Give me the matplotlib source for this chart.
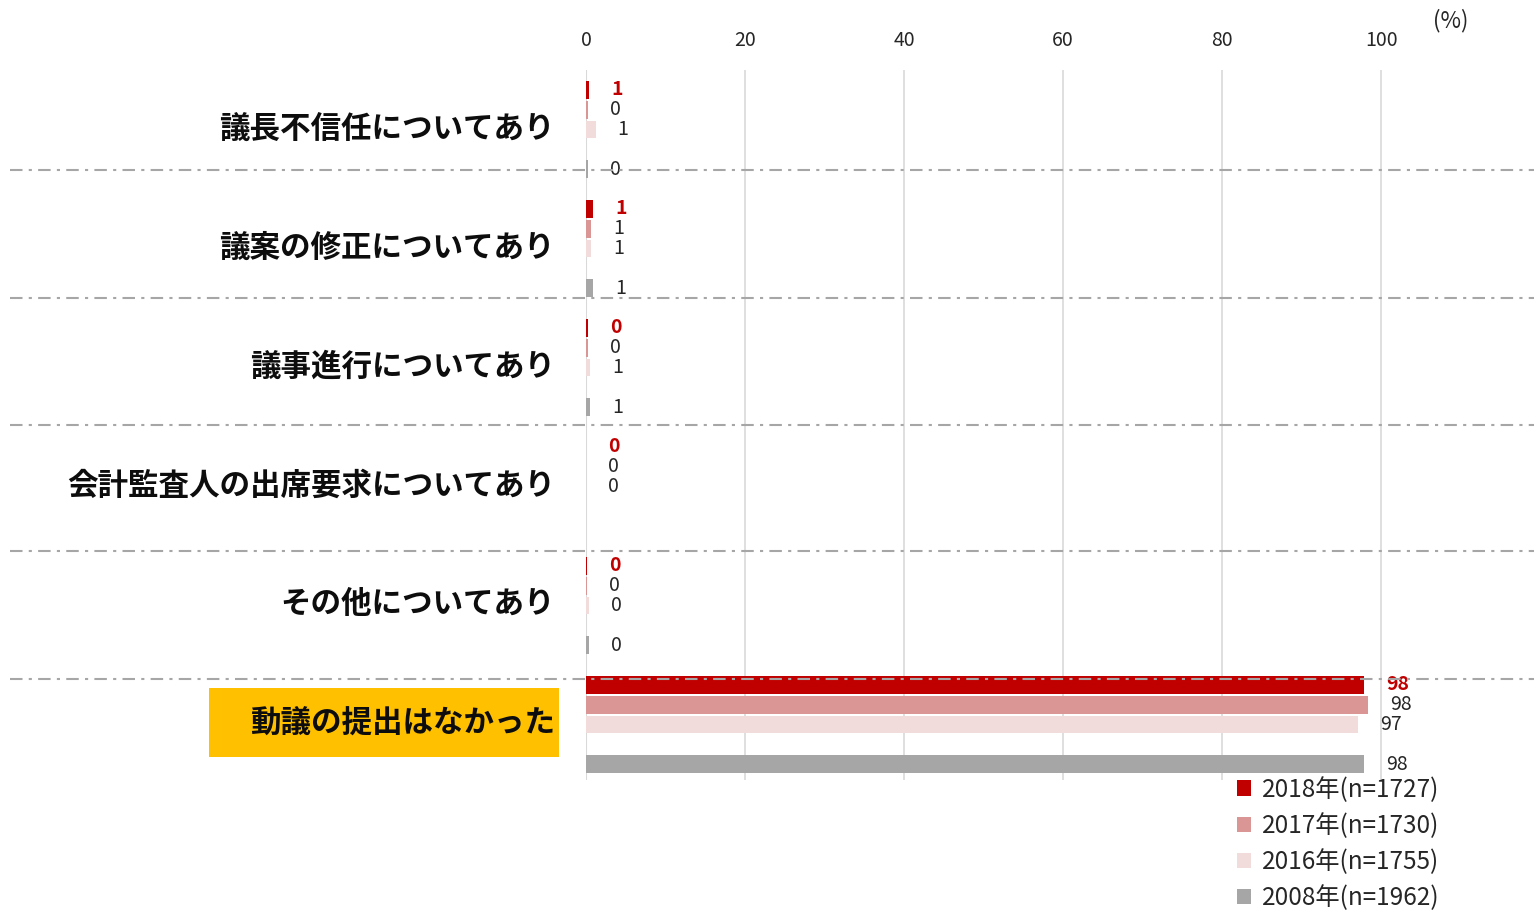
import numpy as np
import matplotlib
matplotlib.use("Agg")
import matplotlib.pyplot as plt
from matplotlib.lines import Line2D
from matplotlib.patches import Rectangle

plt.rcParams['font.family'] = ['Noto Sans CJK JP', 'DejaVu Sans']

# data (percent), 2008 has no value for 会計監査人
categories = ["議長不信任についてあり", "議案の修正についてあり", "議事進行についてあり",
              "会計監査人の出席要求についてあり", "その他についてあり", "動議の提出はなかった"]
series_names = ["2018年(n=1727)", "2017年(n=1730)", "2016年(n=1755)", "2008年(n=1962)"]
v2018 = [0.4, 0.9, 0.3, 0.0, 0.1, 97.8]
v2017 = [0.2, 0.6, 0.2, 0.0, 0.1, 98.3]
v2016 = [1.2, 0.6, 0.5, 0.0, 0.4, 97.1]
v2008 = [0.3, 0.9, 0.5, np.nan, 0.4, 97.8]
lab2018 = ["1", "1", "0", "0", "0", "98"]
lab2017 = ["0", "1", "0", "0", "0", "98"]
lab2016 = ["1", "1", "1", "0", "0", "97"]
lab2008 = ["0", "1", "1", "", "0", "98"]
colors = ["#C00000", "#DA9694", "#F2DCDB", "#A6A6A6"]

values = [v2018, v2017, v2016, v2008]
labels = [lab2018, lab2017, lab2016, lab2008]
offsets = [-2, -1, 0, 2]

fig = plt.figure(figsize=(15.34, 9.24), dpi=100)
ax = fig.add_axes([586 / 1534, 144 / 924, 948 / 1534, 710 / 924])

centers = np.arange(len(categories)) * 6
handles = []
for i in range(4):
    ys = centers + offsets[i]
    vals = np.array(values[i], dtype=float)
    b = ax.barh(ys, vals, height=0.9, color=colors[i], zorder=2, label=series_names[i])
    handles.append(b)
    for y, v, t in zip(ys, vals, labels[i]):
        if np.isnan(v):
            continue
        ax.annotate(t, (v, y), xytext=(22, 0), textcoords="offset pixels",
                    ha="left", va="center", fontsize=14,
                    color="#C00000" if i == 0 else "#262626",
                    fontweight="bold" if i == 0 else "normal")

ax.set_xlim(0, 119.2)
ax.set_ylim(32.8, -3.0)
ax.set_xticks([0, 20, 40, 60, 80, 100])
ax.xaxis.tick_top()
ax.tick_params(axis="x", length=0, labelsize=14, colors="#262626", pad=14)
ax.set_yticks([])
ax.grid(axis="x", color="#D9D9D9", linewidth=1.2, zorder=0)
for s in ax.spines.values():
    s.set_visible(False)
ax.axvline(0, color="#D9D9D9", linewidth=1.5, zorder=1)

fig.text(1451 / 1534, 1 - 21 / 924, "(%)", ha="center", va="center", fontsize=16, color="#262626")

# highlight box for last category (behind its label)
ax.add_patch(Rectangle((209 / 1534, 1 - 757 / 924), 350 / 1534, 69 / 924,
                       transform=fig.transFigure, facecolor="#FFC000", edgecolor="none",
                       clip_on=False, zorder=4))

# category labels
for c, cat in zip(centers, categories):
    ax.text(-3.9, c - 0.05, cat, ha="right", va="center", fontsize=22,
            fontweight="bold", color="#0D0D0D", clip_on=False, zorder=5)

# dashed separators
for py in [170, 298, 425, 551, 679]:
    fig.add_artist(Line2D([10 / 1534, 1.0], [1 - py / 924, 1 - py / 924],
                          color="#A6A6A6", linewidth=1.5, linestyle=(0, (6, 3, 1.5, 3)), zorder=3))

fig.legend(handles=handles, loc="upper left", bbox_to_anchor=(1222 / 1534, 1 - 762 / 924),
           frameon=False, fontsize=17.5, labelspacing=0.42, handlelength=0.6,
           handleheight=0.6, handletextpad=0.45, labelcolor="#262626", borderaxespad=0.2)

fig.savefig("out.png", dpi=100)
